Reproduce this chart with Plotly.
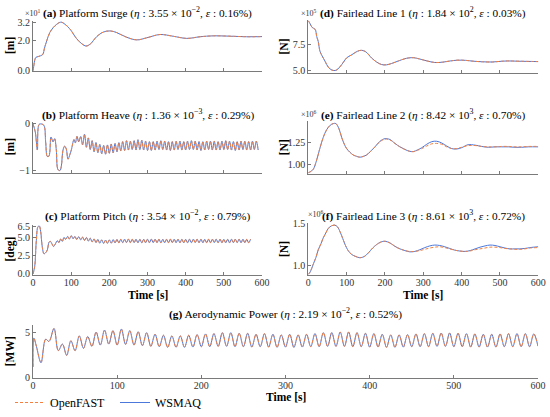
import plotly.graph_objects as go

W, H = 550, 417
ORANGE = "#F5803E"
BLUE = "#4C78DB"
FONT = "Liberation Serif"
AXIS_GREY = "#7a7a7a"

# ---------------- data ----------------
# (a) platform surge, units of 10 m
surge_t = [0, 2, 5, 8, 14, 20, 26, 30, 36, 44, 53, 62, 73, 84, 97, 114, 128, 139, 150,
           167, 184, 202, 219, 245, 272, 298, 333, 368, 403, 438, 472, 525, 560, 600]
surge_openfast = [0.0, 0.3, 0.75, 0.9, 0.95, 1.0, 1.1, 1.5, 2.0, 2.55, 2.88, 3.1, 3.25, 3.1,
                  2.78, 2.15, 1.8, 1.65, 1.78, 2.28, 2.58, 2.66, 2.55, 2.24, 2.06, 2.2, 2.42,
                  2.3, 2.16, 2.27, 2.33, 2.3, 2.27, 2.28]
surge_wsmaq = surge_openfast  # the two curves coincide at this scale

# (b) platform heave [m]
heave_t = [0, 6, 11.4, 15.7, 21.8, 28.8, 33.2, 37.6, 41.9, 47.2, 52.4, 56.8, 61.1, 65.5,
           70.7, 74.2, 78.6, 83, 87.3, 91.7, 96.9, 100.4, 107.4, 110.9, 115.3, 119.7,
           125, 130, 135, 140, 145, 150, 155, 160, 165, 170, 175, 180, 185, 190, 195, 200,
           205, 210, 215, 220, 225, 230, 235, 240, 245, 250, 255, 260, 265, 270, 275, 280,
           285, 290, 295, 300, 305, 310, 315, 320, 325, 330, 335, 340, 345, 350, 355, 360,
           365, 370, 375, 380, 385, 390, 395, 400, 405, 410, 415, 420, 425, 430, 435, 440,
           445, 450, 455, 460, 465, 470, 475, 480, 485, 490, 495, 500, 505, 510, 515, 520,
           525, 530, 535, 540, 545, 550, 555, 560, 565, 570, 575, 580, 585, 590, 595, 600]
heave_openfast = [0.0, -0.175, -0.56, -0.014, 0.0, -0.035, -0.385, -0.70, -0.69, -0.28,
                  -0.385, -0.315, -0.56, -0.98, -1.0, -0.91, -0.56, -0.476, -0.54, -0.756,
                  -0.65, -0.56, -0.336, -0.406, -0.266, -0.385,
                  -0.27, -0.45, -0.22, -0.50, -0.30, -0.55, -0.36, -0.60, -0.40, -0.62,
                  -0.44, -0.64, -0.46, -0.65, -0.45, -0.63, -0.43, -0.62, -0.42, -0.60,
                  -0.40, -0.58, -0.38, -0.57, -0.36, -0.56, -0.37, -0.55, -0.36, -0.56,
                  -0.34, -0.55, -0.35, -0.56, -0.37, -0.57, -0.38, -0.57, -0.38, -0.56,
                  -0.37, -0.55, -0.36, -0.55, -0.37, -0.56, -0.38, -0.57, -0.38, -0.56,
                  -0.37, -0.55, -0.37, -0.56, -0.38, -0.56, -0.37, -0.55, -0.36, -0.55,
                  -0.37, -0.56, -0.38, -0.57, -0.38, -0.56, -0.37, -0.55, -0.37, -0.56,
                  -0.37, -0.56, -0.38, -0.56, -0.37, -0.55, -0.36, -0.55, -0.37, -0.56,
                  -0.38, -0.57, -0.38, -0.56, -0.37, -0.55, -0.37, -0.56, -0.38, -0.56,
                  -0.37, -0.55, -0.37, -0.56]
heave_wsmaq = heave_openfast

# (c) platform pitch [deg]
pitch_t = [0, 4.4, 8.7, 13, 16.6, 20, 24.5, 28.8, 33.2, 37.6, 42, 45.4, 49.8, 54, 58.5,
           63.8, 68, 72.5, 76.9, 81.2, 85.6, 90.8, 95.2, 100.4, 104.8, 110, 114.4,
           120, 125, 130, 135, 140, 145, 150, 155, 160, 165, 170, 175, 180, 185, 190, 195,
           200, 205, 210, 215, 220, 225, 230, 235, 240, 245, 250, 255, 260, 265, 270, 275,
           280, 285, 290, 295, 300, 305, 310, 315, 320, 325, 330, 335, 340, 345, 350, 355,
           360, 365, 370, 375, 380, 385, 390, 395, 400, 405, 410, 415, 420, 425, 430, 435,
           440, 445, 450, 455, 460, 465, 470, 475, 480, 485, 490, 495, 500, 505, 510, 515,
           520, 525, 530, 535, 540, 545, 550, 555, 560, 565, 570, 575, 580, 585, 590, 595, 600]
pitch_openfast = [0.0, 1.0, 4.5, 6.4, 6.5, 5.8, 3.6, 2.74, 2.88, 3.27, 4.3, 4.42, 4.07, 3.72,
                  4.07, 4.5, 4.25, 4.73, 4.42, 4.96, 4.69, 5.09, 4.73, 5.18, 4.78, 5.09, 4.69,
                  5.05, 4.62, 5.0, 4.55, 4.95, 4.45, 4.85, 4.35, 4.75, 4.25, 4.68, 4.18, 4.62,
                  4.15, 4.6, 4.15, 4.62, 4.18, 4.65, 4.2, 4.68, 4.22, 4.7, 4.24, 4.72, 4.25,
                  4.73, 4.25, 4.72, 4.24, 4.71, 4.23, 4.7, 4.22, 4.7, 4.23, 4.71, 4.24, 4.72,
                  4.25, 4.72, 4.24, 4.71, 4.23, 4.7, 4.23, 4.71, 4.24, 4.72, 4.25, 4.72, 4.24,
                  4.71, 4.23, 4.7, 4.22, 4.7, 4.23, 4.71, 4.24, 4.72, 4.25, 4.72, 4.24, 4.71,
                  4.23, 4.7, 4.23, 4.71, 4.24, 4.72, 4.25, 4.72, 4.24, 4.71, 4.23, 4.7, 4.22,
                  4.7, 4.23, 4.71, 4.24, 4.72, 4.25, 4.72, 4.24, 4.71, 4.23, 4.7, 4.23, 4.71]
pitch_wsmaq = pitch_openfast

# (d) fairlead line 1, units of 1e5 N
fl1_t = [0, 4, 10, 18, 22, 26, 30, 36, 44, 52, 62, 72, 82, 92, 100, 113, 128, 139, 150, 165,
         178, 191, 204, 217, 235, 250, 262, 275, 290, 310, 330, 350, 370, 390, 410, 430,
         455, 480, 500, 520, 545, 570, 600]
fl1_openfast = [9.85, 9.6, 9.2, 9.0, 8.3, 7.8, 6.9, 6.4, 5.85, 5.3, 5.0, 4.98, 5.3, 5.8, 6.2,
                6.5, 6.85, 6.95, 6.8, 6.2, 5.8, 5.55, 5.52, 5.65, 5.9, 6.1, 6.2, 6.22, 6.1,
                5.9, 5.75, 5.78, 5.9, 5.98, 5.96, 5.88, 5.82, 5.8, 5.86, 5.9, 5.88, 5.86, 5.84]
fl1_wsmaq = fl1_openfast

# (e) fairlead line 2, units of 1e6 N
fl2_t = [0, 5, 13, 22, 30, 39, 48, 57, 65, 72, 80, 87, 94, 100, 108, 117, 126, 135, 144, 152,
         163, 174, 187, 200, 213, 226, 239, 252, 263, 274, 285, 296, 309, 322, 335, 348, 361,
         374, 387, 400, 417, 435, 452, 470, 487, 504, 522, 539, 556, 574, 600]
fl2_openfast = [0.90, 0.91, 0.94, 1.05, 1.18, 1.31, 1.40, 1.45, 1.47, 1.47, 1.41, 1.31, 1.23,
                1.18, 1.14, 1.106, 1.09, 1.08, 1.09, 1.106, 1.15, 1.2, 1.26, 1.29, 1.28, 1.24,
                1.2, 1.17, 1.15, 1.144, 1.16, 1.18, 1.21, 1.235, 1.24, 1.23, 1.2, 1.18, 1.18,
                1.195, 1.215, 1.215, 1.205, 1.2, 1.2, 1.205, 1.205, 1.2, 1.2, 1.205, 1.205]
fl2_wsmaq = [0.90, 0.91, 0.94, 1.05, 1.18, 1.31, 1.40, 1.45, 1.47, 1.47, 1.41, 1.31, 1.23,
             1.18, 1.14, 1.106, 1.09, 1.08, 1.09, 1.106, 1.15, 1.2, 1.265, 1.295, 1.285, 1.24,
             1.2, 1.17, 1.15, 1.145, 1.165, 1.19, 1.23, 1.26, 1.265, 1.245, 1.21, 1.18, 1.175,
             1.19, 1.225, 1.22, 1.205, 1.195, 1.2, 1.2, 1.2, 1.195, 1.195, 1.2, 1.2]

# (f) fairlead line 3, units of 1e6 N
fl3_t = [0, 5, 13, 20, 26, 33, 39, 46, 52, 60, 69, 76, 83, 90, 96, 104, 113, 124, 135, 146,
         157, 168, 178, 189, 200, 213, 226, 239, 252, 265, 278, 291, 304, 317, 330, 343, 356,
         369, 382, 395, 409, 422, 435, 448, 461, 474, 487, 500, 513, 526, 539, 552, 565, 578, 600]
fl3_openfast = [0.90, 0.93, 1.02, 1.10, 1.19, 1.26, 1.33, 1.39, 1.44, 1.47, 1.48, 1.46, 1.40,
                1.32, 1.25, 1.18, 1.135, 1.11, 1.096, 1.11, 1.154, 1.21, 1.25, 1.28, 1.29,
                1.27, 1.23, 1.2, 1.18, 1.17, 1.17, 1.18, 1.195, 1.21, 1.22, 1.225, 1.215, 1.2,
                1.185, 1.175, 1.17, 1.175, 1.19, 1.2, 1.21, 1.22, 1.22, 1.215, 1.205, 1.2,
                1.195, 1.195, 1.2, 1.21, 1.215]
fl3_wsmaq = [0.90, 0.93, 1.02, 1.10, 1.19, 1.26, 1.33, 1.39, 1.44, 1.47, 1.48, 1.46, 1.40,
             1.32, 1.25, 1.18, 1.135, 1.11, 1.096, 1.11, 1.154, 1.21, 1.25, 1.28, 1.29,
             1.27, 1.23, 1.2, 1.18, 1.165, 1.17, 1.19, 1.215, 1.235, 1.245, 1.24, 1.225,
             1.205, 1.185, 1.175, 1.17, 1.18, 1.2, 1.22, 1.235, 1.245, 1.24, 1.225, 1.21,
             1.2, 1.2, 1.2, 1.205, 1.215, 1.225]

# (g) aerodynamic power [MW]
power_t = [0, 1, 4, 9.5, 15, 19, 25, 30, 35, 40, 45, 50, 55, 60, 65, 70, 75, 80, 85, 90, 95,
           100, 105, 110, 115, 120, 125, 130, 135, 140, 145, 150, 155, 160, 165, 170, 175,
           180, 185, 190, 195, 200, 205, 210, 215, 220, 225, 230, 235, 240, 245, 250, 255,
           260, 265, 270, 275, 280, 285, 290, 295, 300, 305, 310, 315, 320, 325, 330, 335,
           340, 345, 350, 355, 360, 365, 370, 375, 380, 385, 390, 395, 400, 405, 410, 415,
           420, 425, 430, 435, 440, 445, 450, 455, 460, 465, 470, 475, 480, 485, 490, 495,
           500, 505, 510, 515, 520, 525, 530, 535, 540, 545, 550, 555, 560, 565, 570, 575,
           580, 585, 590, 595, 600]
power_openfast = [1.2, 4.4, 3.5, 1.66, 4.28, 4.02, 5.47, 3.0, 3.73, 2.47, 4.1, 3.0, 4.64, 3.26,
                  4.57, 3.48, 5.07, 3.62, 5.29, 3.73, 5.22, 3.62, 5.4, 3.7, 5.22, 3.62, 5.1,
                  3.55, 5.0, 3.48, 4.82, 3.44, 4.71, 3.37, 4.64, 3.37, 4.64, 3.37, 4.71, 3.4,
                  4.78, 3.44, 4.86, 3.44, 4.89, 3.48, 5.0, 3.48, 5.0, 3.44, 4.93, 3.44, 4.93,
                  3.4, 4.82, 3.44, 4.89, 3.4, 4.82, 3.37, 4.75, 3.4, 4.82, 3.37, 4.75, 3.4,
                  4.82, 3.44, 4.89, 3.44, 5.0, 3.48, 5.0, 3.48, 5.07, 3.48, 5.07, 3.44, 5.0,
                  3.44, 4.93, 3.4, 4.89, 3.4, 4.82, 3.37, 4.75, 3.37, 4.75, 3.4, 4.78, 3.44,
                  4.86, 3.44, 4.89, 3.44, 4.93, 3.48, 4.96, 3.48, 4.96, 3.44, 4.93, 3.44,
                  4.89, 3.4, 4.86, 3.4, 4.82, 3.4, 4.82, 3.4, 4.86, 3.44, 4.89, 3.44, 4.89,
                  3.44, 4.89, 3.44, 4.86, 3.5]
power_wsmaq = power_openfast

time_ticks = [0, 100, 200, 300, 400, 500, 600]

# ---------------- panels ----------------
# name, t, openfast, wsmaq, x px span, y px span (top, bottom), y range, ticks, tick text,
# x tick labels shown
panels = [
    ("a", surge_t, surge_openfast, surge_wsmaq, (33, 262), (21.8, 73), [-0.046, 3.3],
     [0, 2, 3.2], ["0.0", "2.0", "3.2"], False),
    ("b", heave_t, heave_openfast, heave_wsmaq, (33, 262), (124.3, 176.9), [-1.055, 0.05],
     [-1, 0], ["\u22121", "0"], False),
    ("c", pitch_t, pitch_openfast, pitch_wsmaq, (33, 262), (229.5, 281), [-0.13, 6.7],
     [0, 2.5, 5, 6.5], ["0.0", "2.5", "5.0", "6.5"], True),
    ("d", fl1_t, fl1_openfast, fl1_wsmaq, (308.3, 538.3), (20, 75), [4.68, 9.97],
     [5, 7.5], ["5.0", "7.5"], False),
    ("e", fl2_t, fl2_openfast, fl2_wsmaq, (308.3, 538.3), (123.5, 178), [0.883, 1.502],
     [1.0, 1.25], ["1.00", "1.25"], False),
    ("f", fl3_t, fl3_openfast, fl3_wsmaq, (308.3, 538.3), (228, 281), [0.893, 1.504],
     [1.0, 1.5], ["1.0", "1.5"], True),
    ("g", power_t, power_openfast, power_wsmaq, (33, 538), (332, 386), [0, 5.87],
     [0, 5], ["0", "5"], True),
]

fig = go.Figure()
layout = {}
tick_font = dict(family=FONT, size=10, color="#333333")

for i, (name, t, of, ws, xs, ys, yr, yt, ytt, xlab) in enumerate(panels, start=1):
    sfx = "" if i == 1 else str(i)
    last = name == "g"
    fig.add_trace(go.Scatter(x=t, y=ws, mode="lines", name="WSMAQ",
                             line=dict(color=BLUE, width=1, shape="spline"),
                             xaxis="x" + sfx, yaxis="y" + sfx,
                             showlegend=last, legendrank=2))
    fig.add_trace(go.Scatter(x=t, y=of, mode="lines", name="OpenFAST",
                             line=dict(color=ORANGE, width=1, shape="spline", dash="3px,2px"),
                             xaxis="x" + sfx, yaxis="y" + sfx,
                             showlegend=last, legendrank=1))
    layout["xaxis" + sfx] = dict(
        domain=[xs[0] / W, xs[1] / W], anchor="y" + sfx, range=[0, 600],
        tickvals=time_ticks, showticklabels=xlab, ticks="inside", ticklen=3,
        tickcolor=AXIS_GREY, showline=True, linecolor=AXIS_GREY, linewidth=1,
        showgrid=False, zeroline=False, tickfont=tick_font, ticklabeloverflow="allow",
        ticklabelstandoff=-2, automargin=False)
    layout["yaxis" + sfx] = dict(
        domain=[1 - ys[1] / H, 1 - ys[0] / H], anchor="x" + sfx, range=yr,
        tickvals=yt, ticktext=ytt, ticks="inside", ticklen=3,
        tickcolor=AXIS_GREY, showline=True, linecolor=AXIS_GREY, linewidth=1,
        showgrid=False, zeroline=False, tickfont=tick_font, automargin=False)

titles = [
    ("a", 147.5, 13, "Platform Surge", "3.55", "\u22122", "0.16"),
    ("b", 147.5, 117, "Platform Heave", "1.36", "\u22123", "0.29"),
    ("c", 147.5, 220, "Platform Pitch", "3.54", "\u22122", "0.79"),
    ("d", 423, 13, "Fairlead Line 1", "1.84", "2", "0.03"),
    ("e", 423, 117, "Fairlead Line 2", "8.42", "3", "0.70"),
    ("f", 423, 220, "Fairlead Line 3", "8.61", "3", "0.72"),
    ("g", 285.5, 320, "Aerodynamic Power", "2.19", "\u22122", "0.52"),
]


def note(text, cx, cy, size=11, color="black", angle=0):
    return dict(x=cx / W, y=1 - cy / H, xref="paper", yref="paper", showarrow=False,
                xanchor="center", yanchor="middle", text=text, textangle=angle,
                font=dict(family=FONT, size=size, color=color))


annotations = []
for lab, cx, cy, txt, eta, ex, eps in titles:
    annotations.append(note(
        f"<b>({lab})</b> {txt} (<i>\u03b7</i> : {eta} \u00d7 10<sup>{ex}</sup>, "
        f"<i>\u03b5</i> : {eps}%)", cx, cy, size=11.3))

# axis titles
for txt, cx, cy in [("[m]", 10, 47), ("[m]", 10, 150.5), ("[deg]", 10, 255),
                    ("[N]", 284, 47.5), ("[N]", 284, 150.5), ("[N]", 284, 254.5),
                    ("[MW]", 10, 359)]:
    annotations.append(note(f"<b>{txt}</b>", cx, cy, size=11.5, angle=-90))

for cx, cy in [(147.5, 302), (423, 302), (285.5, 406)]:
    annotations.append(note("<b>Time [s]</b>", cx, cy, size=11.5))

# scale multipliers
for cx, cy, p in [(33, 13, "1"), (309, 13, "5"), (309, 117, "6"), (316, 219, "6")]:
    annotations.append(note(f"\u00d710<sup>{p}</sup>", cx, cy, size=8, color="#333333"))

fig.update_layout(
    width=W, height=H,
    margin=dict(l=0, r=0, t=0, b=0),
    paper_bgcolor="white", plot_bgcolor="white",
    font=dict(family=FONT, size=11, color="black"),
    annotations=annotations,
    legend=dict(orientation="h", x=10 / W, y=1 - 397 / H, xanchor="left", yanchor="top",
                entrywidth=60, entrywidthmode="pixels", bgcolor="rgba(0,0,0,0)",
                font=dict(family=FONT, size=12, color="black")),
    **layout,
)

# the page's default 8px body margin would push the figure off the window
fig.write_html("out.html", config={"displayModeBar": False},
               post_script="document.body.style.margin = '0';")
